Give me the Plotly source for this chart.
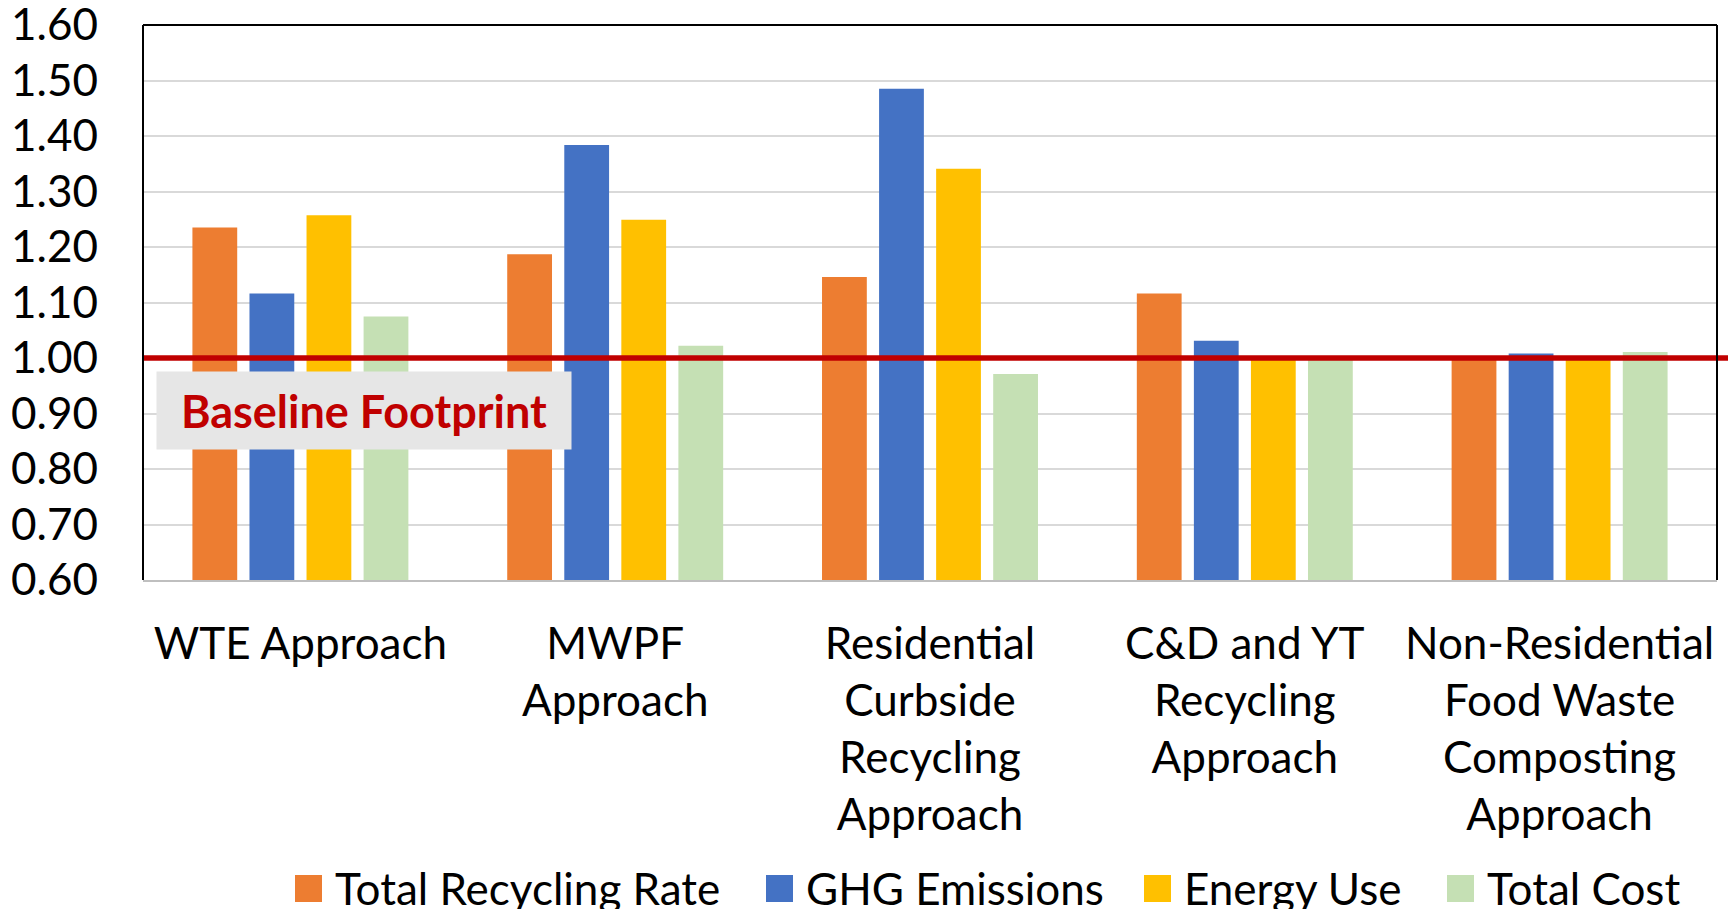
import plotly.graph_objects as go

# ---- data -------------------------------------------------------------
categories = [
    "WTE Approach",
    "MWPF<br>Approach",
    "Residential<br>Curbside<br>Recycling<br>Approach",
    "C&D and YT<br>Recycling<br>Approach",
    "Non-Residential<br>Food Waste<br>Composting<br>Approach",
]
series_names = ["Total Recycling Rate", "GHG Emissions", "Energy Use", "Total Cost"]
series_colors = ["#ED7D31", "#4472C4", "#FFC000", "#C5E0B4"]

total_recycling_rate = [1.235, 1.187, 1.146, 1.116, 1.000]
ghg_emissions = [1.116, 1.384, 1.485, 1.031, 1.008]
energy_use = [1.257, 1.249, 1.341, 1.000, 1.000]
total_cost = [1.075, 1.022, 0.971, 1.000, 1.011]

baseline_value = 1.00
baseline_label = "Baseline Footprint"

y_ticks = [0.60, 0.70, 0.80, 0.90, 1.00, 1.10, 1.20, 1.30, 1.40, 1.50, 1.60]

# ---- layout constants -------------------------------------------------
W, H = 1731, 909
M_L, M_R, M_T, M_B = 143, 14, 25, 329
PLOT_W = W - M_L - M_R
PLOT_H = H - M_T - M_B
FONT = "Lato"
FS = 44


def px_x(x):
    return (x - M_L) / PLOT_W


def px_y(y):
    return (H - M_B - y) / PLOT_H


fig = go.Figure()
for name, color, vals in zip(
    series_names, series_colors,
    [total_recycling_rate, ghg_emissions, energy_use, total_cost],
):
    fig.add_trace(go.Bar(
        x=categories, y=vals, name=name,
        marker=dict(color=color, line=dict(width=0)),
        showlegend=False,
    ))

shapes = [
    # baseline reference line
    dict(type="line", xref="paper", yref="y", x0=0, x1=px_x(1728),
         y0=baseline_value, y1=baseline_value,
         line=dict(color="#C00000", width=5.5), layer="above"),
    # frame: top, left, right in black
    dict(type="line", xref="paper", yref="paper", x0=0, x1=1, y0=1, y1=1,
         line=dict(color="#000000", width=2), layer="above"),
    dict(type="line", xref="paper", yref="paper", x0=0, x1=0, y0=0, y1=1,
         line=dict(color="#000000", width=2), layer="above"),
    dict(type="line", xref="paper", yref="paper", x0=1, x1=1, y0=0, y1=1,
         line=dict(color="#000000", width=2), layer="above"),
]

annotations = [
    dict(text="<b>%s</b>" % baseline_label, xref="paper", yref="paper",
         x=px_x(364), y=px_y(410), xanchor="center", yanchor="middle",
         showarrow=False, width=414, height=77, borderpad=0,
         bgcolor="#E6E6E6", font=dict(family=FONT, size=45, color="#C00000")),
]

# legend drawn as swatches plus labels below the category labels
legend_swatch_x = [295, 766, 1144, 1447]
for name, color, sx in zip(series_names, series_colors, legend_swatch_x):
    shapes.append(dict(type="rect", xref="paper", yref="paper",
                       x0=px_x(sx), x1=px_x(sx + 27), y0=px_y(902), y1=px_y(875),
                       fillcolor=color, line=dict(width=0), layer="above"))
    annotations.append(dict(text=name, xref="paper", yref="paper",
                            x=px_x(sx + 38), y=px_y(888), xanchor="left",
                            yanchor="middle", showarrow=False,
                            font=dict(family=FONT, size=FS, color="#000000")))

fig.update_layout(
    width=W, height=H,
    margin=dict(l=M_L, r=M_R, t=M_T, b=M_B, pad=0, autoexpand=False),
    paper_bgcolor="#FFFFFF", plot_bgcolor="#FFFFFF",
    barmode="group", bargap=0.275, bargroupgap=0.215,
    font=dict(family=FONT, size=FS, color="#000000"),
    shapes=shapes, annotations=annotations,
    xaxis=dict(
        showline=True, linecolor="#BFBFBF", linewidth=2,
        showgrid=False, ticks="", tickangle=0, automargin=False,
        tickfont=dict(family=FONT, size=FS, color="#000000"),
        ticklabelstandoff=24,
    ),
    yaxis=dict(
        range=[0.6, 1.6], tickvals=y_ticks, tickformat=".2f",
        showgrid=True, gridcolor="#D9D9D9", gridwidth=2,
        zeroline=False, showline=False, ticks="", automargin=False,
        tickfont=dict(family=FONT, size=FS, color="#000000"),
        ticklabelstandoff=44, ticklabeloverflow="allow",
    ),
)

fig.write_html("out.html")
